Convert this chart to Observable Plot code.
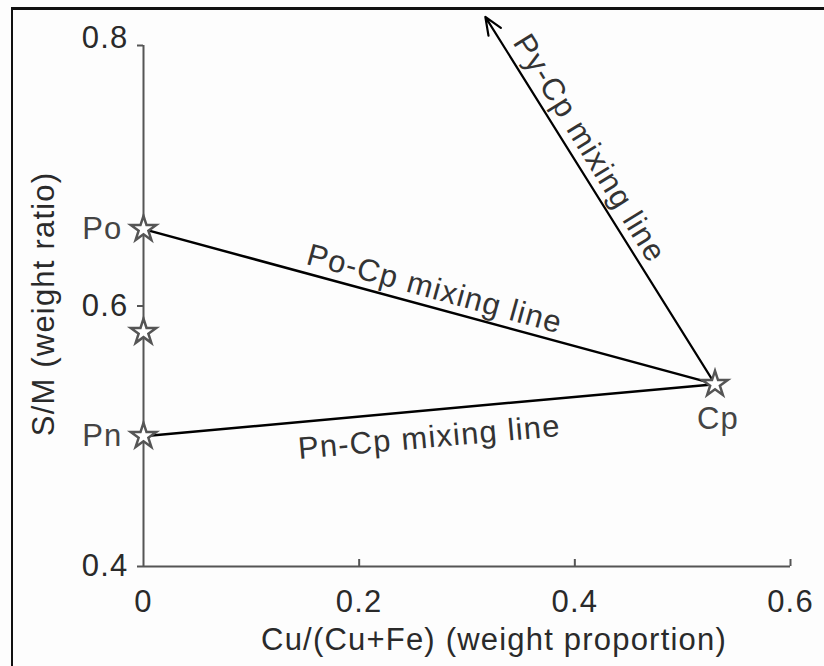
<!DOCTYPE html>
<html><head><meta charset="utf-8">
<script src="https://cdn.jsdelivr.net/npm/d3@7"></script>
<script src="https://cdn.jsdelivr.net/npm/@observablehq/plot@0.6"></script>
<style>
body{margin:0;background:#fff;}
#wrap{position:relative;width:824px;height:666px;overflow:hidden;background:#fdfdfd;}
#wrap svg{position:absolute;left:0;top:0;}
#border{position:absolute;left:11px;top:7px;right:-10px;bottom:-10px;border-left:2px solid #111;border-top:3px solid #111;pointer-events:none;}
#wrap svg text{letter-spacing:1.2px;}
</style></head><body><div id="wrap"><div id="border"></div></div>
<script>
// end-member minerals (the second star at Cu/(Cu+Fe)=0 is unlabelled)
const minerals = ["Po", "", "Pn", "Cp"];
const cuRatio = [0, 0, 0, 0.53];
const smRatio = [0.659, 0.58, 0.5, 0.54];
// Py-Cp mixing arrow end point (towards pyrite)
const pyArrowCu = [0.317];
const pyArrowSm = [0.822];
const xTicks = [0, 0.2, 0.4, 0.6];
const yTicks = [0.4, 0.6, 0.8];
const lineLabels = ["Po-Cp mixing line", "Pn-Cp mixing line", "Py-Cp mixing line"];
const labelCu = [0.270, 0.265, 0.4135];
const labelSm = [0.613, 0.499, 0.721];
const labelAngle = [15.4, -5.0, 58.3];

const points = minerals.map((name, i) => ({name, cu: cuRatio[i], sm: smRatio[i]}));
const cp = points[3];
const mixing = [points[0], points[2]].map(p => ({from: p, to: cp}));
const pyArrow = pyArrowCu.map((c, i) => ({cu: c, sm: pyArrowSm[i]}));
const labels = lineLabels.map((t, i) => ({text: t, cu: labelCu[i], sm: labelSm[i], angle: labelAngle[i]}));

const ink = "#2a2a2a";
const axisGray = "#555";
const fmt = d => d === 0 ? "0" : d.toFixed(1);

const chart = Plot.plot({
  width: 824,
  height: 666,
  marginTop: 45,
  marginRight: 34,
  marginBottom: 100,
  marginLeft: 143,
  style: {fontFamily: "'Liberation Sans', Arial, sans-serif", fontSize: "31px", color: ink, background: "transparent"},
  x: {domain: [0, 0.6], label: null},
  y: {domain: [0.4, 0.8], label: null},
  marks: [
    // axis lines
    Plot.ruleX([0], {y1: 0.4, y2: 0.8, stroke: axisGray, strokeWidth: 2}),
    Plot.ruleY([0.4], {x1: 0, x2: 0.6, stroke: axisGray, strokeWidth: 2}),
    // y ticks (outward)
    Plot.ruleY(yTicks, {x1: 0, x2: 0, insetLeft: -6, stroke: axisGray, strokeWidth: 2}),
    // x ticks (inward)
    Plot.ruleX(xTicks.slice(1), {y1: 0.4, y2: 0.4, insetBottom: 7, stroke: axisGray, strokeWidth: 2}),
    // tick labels
    Plot.axisX(xTicks, {tickSize: 0, tickPadding: 23, label: null, fill: ink, tickFormat: fmt}),
    Plot.axisY(yTicks.slice(0, 2), {tickSize: 0, tickPadding: 15, label: null, fill: ink, tickFormat: fmt}),
    Plot.axisY(yTicks.slice(2), {tickSize: 0, tickPadding: 15, label: null, fill: ink, tickFormat: fmt, dy: -7}),
    // axis titles
    Plot.text(["Cu/(Cu+Fe) (weight proportion)"], {frameAnchor: "bottom", lineAnchor: "top", dx: 27, dy: 61, fill: ink}),
    Plot.text(["S/M (weight ratio)"], {frameAnchor: "left", rotate: -90, textAnchor: "middle", lineAnchor: "middle", dx: -99, dy: -2, fill: ink}),
    // mixing lines
    Plot.link(mixing, {x1: d => d.from.cu, y1: d => d.from.sm, x2: d => d.to.cu, y2: d => d.to.sm, stroke: "#000", strokeWidth: 2.5}),
    Plot.arrow(pyArrow, {x1: () => cp.cu, y1: () => cp.sm, x2: "cu", y2: "sm", stroke: "#000", strokeWidth: 2.2, headLength: 13, headAngle: 45}),
    // end-member stars
    Plot.dot(points, {x: "cu", y: "sm", symbol: "star", r: 8, fill: "white", stroke: axisGray, strokeWidth: 2.5}),
    Plot.text(points.filter(d => d.name && d.name !== "Cp"), {x: "cu", y: "sm", text: "name", textAnchor: "end", dx: -21, fill: "#444"}),
    Plot.text(points.filter(d => d.name === "Cp"), {x: "cu", y: "sm", text: "name", dx: 3, dy: 35, fill: "#444"}),
    // mixing-line labels
    Plot.text(labels, {x: "cu", y: "sm", text: "text", rotate: "angle", lineAnchor: "middle", fill: "#333"})
  ]
});
document.getElementById("wrap").insertBefore(chart, document.getElementById("border"));
</script>
</body></html>
